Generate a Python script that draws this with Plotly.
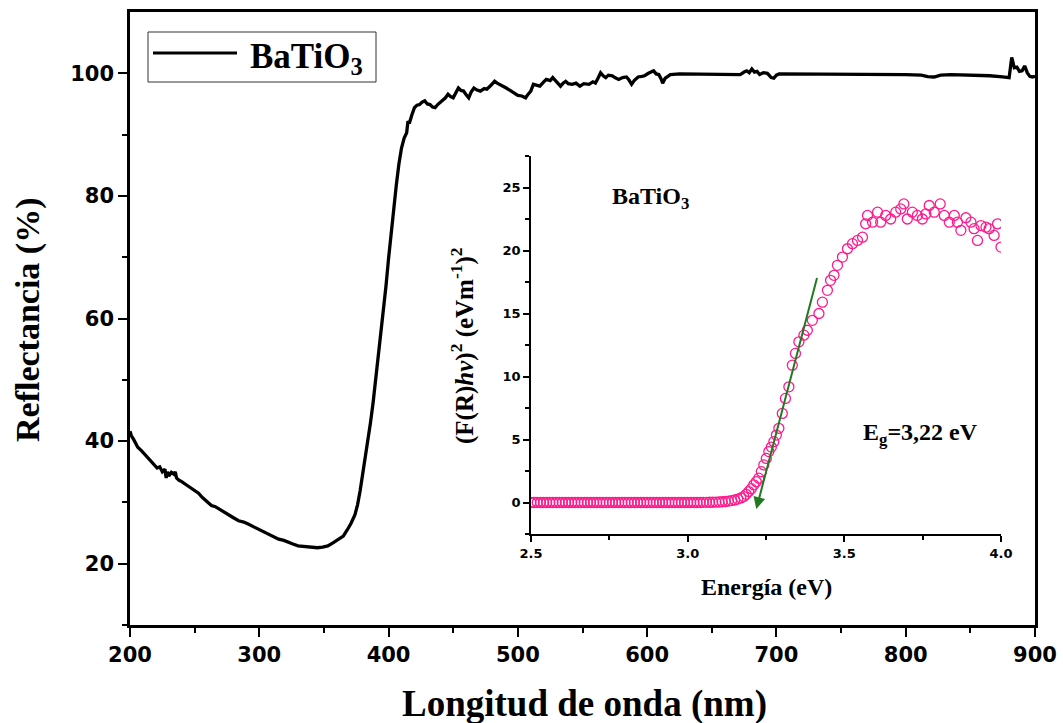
import plotly.graph_objects as go

# Diffuse reflectance spectrum of BaTiO3
wavelength_nm = [
    200, 201, 203, 206, 209, 211, 214, 218, 221, 223, 225, 227, 228, 229, 230,
    232, 234, 235, 236, 238, 240, 244, 247, 250, 253, 256, 260, 263, 266, 269,
    272, 276, 280, 284, 288, 291, 295, 299, 303, 307, 311, 315, 319, 322, 326,
    330, 334, 338, 342, 345, 349, 353, 357, 361, 365, 368, 371, 374, 376, 378,
    380, 382, 384, 386, 388, 390, 392, 394, 396, 398, 400, 402, 404, 406, 408,
    410, 412, 414, 415, 416, 418, 420, 422, 424, 426, 428, 430, 432, 434, 436,
    438, 441, 444, 446, 448, 450, 452, 454, 456, 458, 460, 462, 464, 466, 468,
    471, 474, 476, 479, 482, 484, 486, 489, 491, 494, 497, 500, 503, 506, 508,
    510, 512, 515, 517, 520, 522, 525, 527, 530, 533, 535, 537, 539, 542, 545,
    548, 551, 555, 558, 560, 562, 564, 566, 568, 570, 573, 575, 578, 581, 584,
    586, 588, 590, 593, 596, 598, 601, 605, 607, 609, 611, 612, 614, 618, 625,
    640, 660, 672, 675, 677, 679, 681, 683, 685, 687, 690, 693, 696, 698, 700,
    702, 720, 740, 760, 780, 800, 812, 817, 822, 827, 835, 850, 865, 875, 880,
    882, 884, 886, 888, 890, 892, 894, 896, 898, 900,
]
reflectance_pct = [
    41.6, 40.9, 40.2, 39.0, 38.4, 37.9, 37.2, 36.3, 35.6, 35.8, 35.0, 35.4, 34.0, 35.0, 34.3,
    34.9, 34.6, 35.0, 34.0, 33.6, 33.4, 32.8, 32.4, 31.9, 31.5, 30.8, 30.1, 29.5, 29.3, 28.9,
    28.5, 27.9, 27.5, 27.0, 26.8, 26.5, 26.1, 25.7, 25.3, 24.9, 24.5, 24.0, 23.8, 23.5, 23.2,
    22.9, 22.8, 22.7, 22.6, 22.6, 22.7, 22.9, 23.4, 24.0, 24.5, 25.5, 26.6, 28.0, 29.6, 31.9,
    34.5, 37.4, 40.2, 43.0, 46.2, 50.0, 53.2, 56.9, 61.0, 65.3, 69.8, 74.2, 78.1, 81.8, 85.2,
    87.8, 89.4, 90.3, 92.2, 91.8, 93.2, 94.4, 94.8, 94.9, 95.3, 95.5, 95.0, 94.9, 94.5, 94.4,
    94.9, 95.5, 96.0, 96.6, 96.2, 96.0, 96.9, 97.6, 97.2, 97.1, 96.5, 96.0, 97.0, 97.6, 97.3,
    97.1, 97.5, 97.4, 98.0, 98.7, 98.4, 98.2, 97.9, 97.6, 97.2, 96.8, 96.4, 96.3, 96.0, 96.6,
    97.1, 98.2, 98.0, 97.9, 98.6, 99.0, 98.8, 99.3, 98.6, 97.9, 98.4, 98.7, 98.3, 98.2, 98.4,
    97.9, 98.3, 98.2, 98.6, 98.4, 99.2, 100.1, 99.6, 99.3, 99.7, 99.6, 99.3, 99.0, 99.3, 99.4,
    98.9, 98.2, 98.8, 99.4, 99.5, 99.6, 100.0, 100.4, 99.9, 99.8, 99.0, 98.4, 99.2, 99.8, 99.9,
    99.9, 99.8, 99.8, 100.2, 100.4, 100.1, 100.7, 100.2, 100.3, 99.8, 100.1, 100.0, 99.3, 99.2, 99.7,
    99.9, 99.9, 99.9, 99.85, 99.8, 99.8, 99.7, 99.45, 99.4, 99.7, 99.8, 99.75, 99.6, 99.4, 99.3,
    102.6, 100.9, 101.0, 100.3, 100.4, 101.2, 100.1, 99.5, 99.4, 99.5,
]

# Tauc plot, (F(R)hv)^2 versus photon energy
energy_ev = [
    2.50, 2.51, 2.52, 2.53, 2.54, 2.55, 2.56, 2.57, 2.58, 2.59, 2.60, 2.61, 2.62, 2.63, 2.64,
    2.65, 2.66, 2.67, 2.68, 2.69, 2.70, 2.71, 2.72, 2.73, 2.74, 2.75, 2.76, 2.77, 2.78, 2.79,
    2.80, 2.81, 2.82, 2.83, 2.84, 2.85, 2.86, 2.87, 2.88, 2.89, 2.90, 2.91, 2.92, 2.93, 2.94,
    2.95, 2.96, 2.97, 2.98, 2.99, 3.00, 3.01, 3.02, 3.03, 3.04, 3.05, 3.06, 3.07, 3.08, 3.09,
    3.10, 3.11, 3.12, 3.13, 3.14, 3.15, 3.16, 3.17, 3.179, 3.187, 3.195, 3.203, 3.211, 3.219,
    3.227, 3.235, 3.243, 3.251, 3.259, 3.267, 3.275, 3.283, 3.291, 3.302, 3.312, 3.323, 3.334,
    3.344, 3.355, 3.371, 3.382, 3.398, 3.419, 3.430, 3.446, 3.456, 3.467, 3.478, 3.494, 3.510,
    3.526, 3.542, 3.558, 3.568, 3.574, 3.590, 3.606, 3.616, 3.632, 3.648, 3.664, 3.680, 3.690,
    3.701, 3.717, 3.733, 3.749, 3.760, 3.771, 3.787, 3.806, 3.819, 3.835, 3.851, 3.861, 3.872,
    3.888, 3.904, 3.914, 3.925, 3.936, 3.952, 3.962, 3.978, 3.989, 4.000,
]
frhv_sq = [
    0.0, 0.0, 0.0, 0.0, 0.0, 0.0, 0.0, 0.0, 0.0, 0.0, 0.0, 0.0, 0.0, 0.0, 0.0,
    0.0, 0.0, 0.0, 0.0, 0.0, 0.0, 0.0, 0.0, 0.0, 0.0, 0.0, 0.0, 0.0, 0.0, 0.0,
    0.0, 0.0, 0.0, 0.0, 0.0, 0.0, 0.0, 0.0, 0.0, 0.0, 0.0, 0.0, 0.0, 0.0, 0.0,
    0.0, 0.0, 0.0, 0.0, 0.0, 0.0, 0.0, 0.0, 0.0, 0.0, 0.01, 0.01, 0.02, 0.02, 0.03,
    0.04, 0.06, 0.08, 0.11, 0.15, 0.2, 0.27, 0.36, 0.47, 0.65, 0.87, 1.1, 1.4, 1.65,
    1.93, 2.45, 2.98, 3.5, 4.04, 4.4, 4.83, 5.35, 5.89, 7.07, 8.26, 9.18, 10.9,
    11.83, 12.75, 13.28, 13.67, 14.46, 15.0, 15.9, 16.84, 17.63, 18.03, 18.82, 19.48, 20.14,
    20.54, 20.8, 21.06, 22.12, 22.78, 22.25, 23.04, 22.25, 22.78, 22.5, 23.04, 23.3, 23.7,
    22.5, 23.04, 22.78, 22.5, 22.9, 23.57, 23.04, 23.7, 22.78, 22.25, 22.78, 22.25, 21.6,
    22.6, 22.25, 21.73, 20.8, 21.98, 21.85, 21.73, 21.2, 22.12, 20.27,
]

# Linear fit of the absorption edge, extrapolated down to the energy axis
fit_top = (3.414, 17.93)
fit_bottom = (3.219, -0.52)

W, H = 1063, 723
def px(x):
    return x / W
def py(y):
    return 1 - y / H

SERIF = "Liberation Serif"
SANS = "DejaVu Sans"

fig = go.Figure()
fig.add_trace(go.Scatter(
    x=wavelength_nm, y=reflectance_pct, mode="lines",
    line=dict(color="black", width=3.3), xaxis="x", yaxis="y",
    showlegend=False, hoverinfo="skip",
))
fig.add_trace(go.Scatter(
    x=energy_ev, y=frhv_sq, mode="markers",
    marker=dict(symbol="circle-open", size=10, color="#ff1a8c",
                line=dict(width=1.3, color="#ff1a8c")),
    xaxis="x2", yaxis="y2", showlegend=False, hoverinfo="skip",
))

main_tick = dict(family=SANS, size=21, color="black", weight="bold")
inset_tick = dict(family=SANS, size=13, color="black", weight="bold")

fig.update_layout(
    width=W, height=H, autosize=False, showlegend=False,
    margin=dict(l=0, r=0, t=0, b=0, pad=0, autoexpand=False),
    paper_bgcolor="white", plot_bgcolor="white",
    xaxis=dict(
        domain=[px(130), px(1035)], range=[200, 900], automargin=False,
        tickmode="linear", tick0=200, dtick=100,
        ticks="outside", ticklen=9, tickwidth=2, tickcolor="black",
        minor=dict(ticks="outside", ticklen=5, tickwidth=2, dtick=50, tickcolor="black"),
        showline=True, linewidth=2.5, linecolor="black", mirror=True,
        showgrid=False, zeroline=False, tickfont=main_tick, anchor="y",
    ),
    yaxis=dict(
        domain=[py(625), py(12)], range=[10, 110], automargin=False,
        tickmode="array", tickvals=[20, 40, 60, 80, 100],
        ticks="outside", ticklen=9, tickwidth=2, tickcolor="black",
        minor=dict(ticks="outside", ticklen=5, tickwidth=2,
                   tickvals=[10, 30, 50, 70, 90], tickcolor="black"),
        showline=True, linewidth=2.5, linecolor="black", mirror=True,
        showgrid=False, zeroline=False, tickfont=main_tick, anchor="x",
    ),
    xaxis2=dict(
        domain=[px(531), px(1001)], range=[2.5, 4.0], automargin=False,
        tickmode="array", tickvals=[2.5, 3.0, 3.5, 4.0], ticktext=["2.5", "3.0", "3.5", "4.0"],
        ticks="outside", ticklen=6, tickwidth=1.5, tickcolor="black",
        minor=dict(ticks="outside", ticklen=4, tickwidth=1.5,
                   tickvals=[2.75, 3.25, 3.75], tickcolor="black"),
        showline=True, linewidth=1.8, linecolor="black", mirror=False,
        showgrid=False, zeroline=False, tickfont=inset_tick, anchor="y2",
    ),
    yaxis2=dict(
        domain=[py(534), py(156)], range=[-2.5, 27.5], automargin=False,
        tickmode="array", tickvals=[0, 5, 10, 15, 20, 25],
        ticks="outside", ticklen=6, tickwidth=1.5, tickcolor="black",
        minor=dict(ticks="outside", ticklen=4, tickwidth=1.5,
                   tickvals=[-2.5, 2.5, 7.5, 12.5, 17.5, 22.5, 27.5], tickcolor="black"),
        showline=True, linewidth=1.8, linecolor="black", mirror=False,
        showgrid=False, zeroline=False, tickfont=inset_tick, anchor="x2",
    ),
)

def label(text, x, y, size, xref="paper", yref="paper", angle=0, xanchor="center"):
    return dict(text=text, xref=xref, yref=yref, x=x, y=y, showarrow=False,
                xanchor=xanchor, yanchor="middle", textangle=angle,
                font=dict(family=SERIF, size=size, color="black", weight="bold"))

annotations = [
    # main axis titles
    label("Longitud de onda (nm)", px(584), py(704), 37),
    label("Reflectancia (%)", px(28), py(320), 34, angle=-90),
    # legend label
    label("BaTiO<sub>3</sub>", px(248), py(58), 35, xanchor="left"),
    # inset axis titles
    label("Energía (eV)", px(766), py(587), 24),
    label("(F(R)<i>hν</i>)<sup>2</sup> (eVm<sup>-1</sup>)<sup>2</sup>",
          px(462), py(346), 25, angle=-90),
    # inset labels
    label("BaTiO<sub>3</sub>", 2.88, 24.2, 24, xref="x2", yref="y2"),
    label("E<sub>g</sub>=3,22 eV", 3.744, 5.4, 24, xref="x2", yref="y2"),
    # band-edge extrapolation arrow
    dict(text="", xref="x2", yref="y2", axref="x2", ayref="y2",
         x=fit_bottom[0], y=fit_bottom[1], ax=fit_top[0], ay=fit_top[1],
         showarrow=True, arrowhead=2, arrowsize=1.2, arrowwidth=2,
         arrowcolor="#1f7a1f"),
]
fig.update_layout(annotations=annotations)

# legend frame and sample line
fig.add_shape(type="rect", xref="paper", yref="paper",
              x0=px(148), x1=px(376), y0=py(82), y1=py(32),
              line=dict(color="#333333", width=1), fillcolor="rgba(0,0,0,0)")
fig.add_shape(type="line", xref="paper", yref="paper",
              x0=px(153), x1=px(237), y0=py(53), y1=py(53),
              line=dict(color="black", width=3))

fig.write_html("out.html")
